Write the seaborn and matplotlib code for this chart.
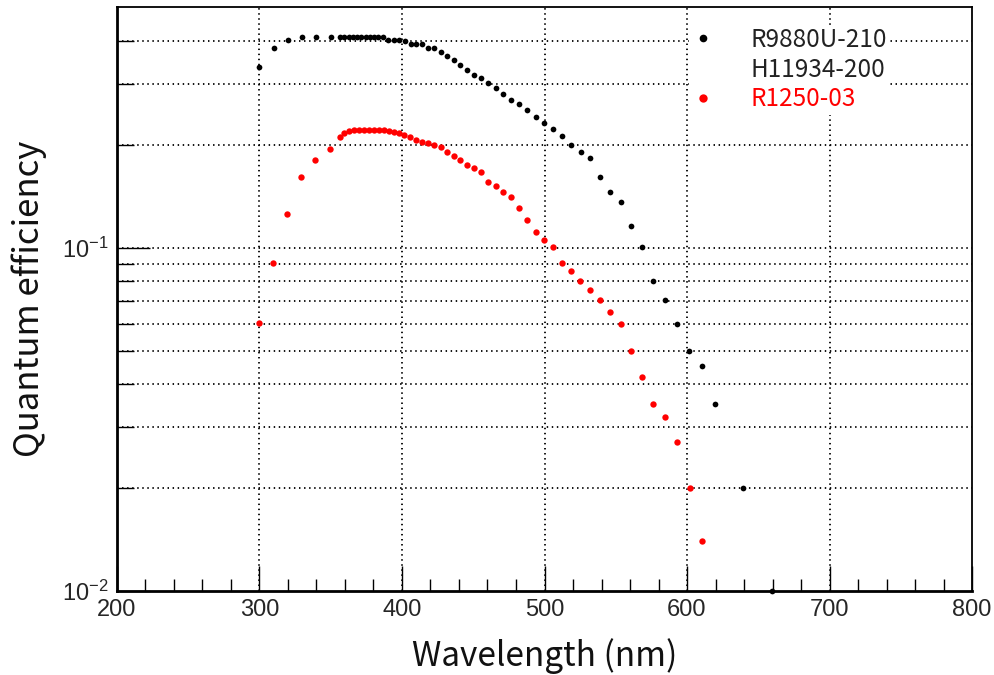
import numpy as np
import pandas as pd
import matplotlib
matplotlib.use("Agg")
import matplotlib.pyplot as plt
import seaborn as sns
from matplotlib.ticker import FixedLocator, NullFormatter, FuncFormatter
from matplotlib.lines import Line2D

# ---------------- data ----------------
wl_r9880 = [300, 310, 320, 330, 340, 350,
            356.5, 359.5, 362.5, 365.5, 368.5, 371.5, 374.5, 377.5, 380.5, 383.5, 386.5,
            390.4, 394.4, 398.1, 402.1, 406.1, 410.0, 414.0, 418.5, 422.5, 427.2, 431.4,
            436.3, 441.0, 445.4, 450.3, 455.4, 460.6, 465.7, 471.1, 476.5, 482.1, 488.0,
            493.8, 499.6, 506.0, 512.3, 518.8, 525.4, 531.9, 538.9, 546.2, 553.5, 560.9,
            568.6, 576.4, 584.8, 593.2, 601.6, 610.7, 619.9, 639.1, 659.4]
qe_r9880 = [0.338, 0.384, 0.403, 0.413, 0.413, 0.413,
            0.413, 0.413, 0.413, 0.413, 0.413, 0.413, 0.413, 0.413, 0.413, 0.413, 0.413,
            0.403, 0.403, 0.403, 0.400, 0.393, 0.393, 0.393, 0.384, 0.384, 0.372, 0.362,
            0.352, 0.342, 0.330, 0.319, 0.312, 0.302, 0.292, 0.282, 0.270, 0.262, 0.252,
            0.241, 0.232, 0.222, 0.212, 0.200, 0.191, 0.183, 0.161, 0.146, 0.136, 0.116,
            0.1005, 0.0803, 0.0704, 0.0602, 0.0502, 0.0452, 0.0352, 0.0200, 0.0100]

wl_r1250 = [300, 309.2, 319.1, 329.1, 339.2, 349.5, 356.7, 359.5, 363.0, 366.3, 369.8,
            373.1, 376.6, 380.1, 383.6, 387.2, 390.6, 394.4, 398.1, 401.4, 405.8, 410.0,
            414.3, 418.5, 422.7, 427.2, 431.6, 436.3, 441.0, 445.6, 450.5, 455.7, 460.6,
            465.7, 471.1, 476.7, 482.1, 488.0, 493.8, 499.6, 505.7, 512.0, 518.4, 525.2,
            531.9, 538.9, 546.2, 553.5, 560.9, 568.6, 576.4, 584.7, 593.0, 601.9, 610.7]
qe_r1250 = [0.0603, 0.0906, 0.1256, 0.161, 0.181, 0.194, 0.211, 0.216, 0.219, 0.2205, 0.221,
            0.221, 0.221, 0.221, 0.2206, 0.2205, 0.219, 0.218, 0.216, 0.2135, 0.210, 0.2065,
            0.204, 0.2017, 0.200, 0.197, 0.191, 0.186, 0.181, 0.174, 0.171, 0.166, 0.156,
            0.152, 0.146, 0.141, 0.131, 0.121, 0.111, 0.1055, 0.1005, 0.0904, 0.0855, 0.0803,
            0.0755, 0.0704, 0.0652, 0.0602, 0.0502, 0.0421, 0.0352, 0.0321, 0.0271, 0.0200, 0.0140]

x_major = [200, 300, 400, 500, 600, 700, 800]
y_major = [0.01, 0.1]
y_minor = [0.02, 0.03, 0.04, 0.05, 0.06, 0.07, 0.08, 0.09, 0.2, 0.3, 0.4]

label_a = "R9880U-210"
label_b = "H11934-200"
label_c = "R1250-03"

df = pd.concat([
    pd.DataFrame({"wl": wl_r9880, "qe": qe_r9880, "pmt": "A"}),
    pd.DataFrame({"wl": wl_r1250, "qe": qe_r1250, "pmt": "C"}),
], ignore_index=True)

# ---------------- style ----------------
sns.set_theme(style="white")
plt.rcParams["font.family"] = ["Liberation Sans", "DejaVu Sans"]
plt.rcParams["mathtext.fontset"] = "custom"
plt.rcParams["mathtext.rm"] = "Liberation Sans"
plt.rcParams["mathtext.it"] = "Liberation Sans"

fig = plt.figure(figsize=(9.94, 6.75), dpi=100)
ax = fig.add_axes([117 / 994, 1 - 591 / 675, 855 / 994, 584 / 675])

sns.scatterplot(data=df[df.pmt == "A"], x="wl", y="qe", color="black", s=17,
                linewidth=0, ax=ax, clip_on=False, zorder=5, legend=False)
sns.scatterplot(data=df[df.pmt == "C"], x="wl", y="qe", color="#ff0000", s=21,
                linewidth=0, ax=ax, clip_on=False, zorder=5, legend=False)

ax.set_yscale("log")
ax.set_xlim(200, 800)
ax.set_ylim(0.01, 0.504)

ax.xaxis.set_major_locator(FixedLocator(x_major))
ax.xaxis.set_minor_locator(FixedLocator([v for v in range(200, 801, 20) if v % 100]))
ax.yaxis.set_major_locator(FixedLocator(y_major))
ax.yaxis.set_minor_locator(FixedLocator(y_minor))
ax.yaxis.set_minor_formatter(NullFormatter())

def yfmt(v, pos):
    e = int(round(np.log10(v)))
    return r"$10^{%d}$" % e
ax.yaxis.set_major_formatter(FuncFormatter(yfmt))

ax.tick_params(axis="x", which="major", direction="in", length=18, width=1,
               labelsize=17, pad=6, color="black", top=False, bottom=True)
ax.tick_params(axis="x", which="minor", direction="in", length=9, width=1,
               color="black", top=False, bottom=True)
ax.tick_params(axis="y", which="major", direction="in", length=24, width=1,
               labelsize=17, pad=6, color="black", left=True, right=False)
ax.tick_params(axis="y", which="minor", direction="in", length=12, width=1,
               color="black", left=True, right=False)

for lab in ax.get_xticklabels() + ax.get_yticklabels():
    lab.set_family(["Liberation Sans", "DejaVu Sans"])

ax.grid(False)
grid_kw = dict(color="black", linewidth=1.3, linestyle=(0, (0.8, 2.0)))
for v in x_major[1:-1]:
    ax.axvline(v, zorder=1, **grid_kw)
for v in y_major[1:] + y_minor:
    ax.axhline(v, zorder=1, **grid_kw)

for side in ["top", "right"]:
    ax.spines[side].set_linewidth(1.3)
    ax.spines[side].set_color("black")
for side in ["left", "bottom"]:
    ax.spines[side].set_linewidth(2.0)
    ax.spines[side].set_color("black")

cjk = ["Noto Sans CJK JP", "DejaVu Sans"]
ax.set_xlabel("Wavelength (nm)", fontsize=24, family=cjk, labelpad=12, color="#111111")
ax.set_ylabel("Quantum efficiency", fontsize=25, family=cjk, labelpad=11, color="#111111")

handles = [
    Line2D([], [], linestyle="none", marker="o", markersize=5.5, color="black", markeredgewidth=0),
    Line2D([], [], linestyle="none", marker="none"),
    Line2D([], [], linestyle="none", marker="o", markersize=6, color="#ff0000", markeredgewidth=0),
]
leg = ax.legend(handles, [label_a, label_b, label_c], loc="upper left",
                bbox_to_anchor=(0.6685, 0.970), frameon=True, borderpad=0.1,
                handlelength=1.0, handletextpad=1.43, labelspacing=0.15,
                borderaxespad=0, fancybox=False,
                prop={"family": cjk, "size": 17.5})
leg.get_frame().set_facecolor("white")
leg.get_frame().set_edgecolor("none")
leg.get_frame().set_alpha(1.0)
leg.set_zorder(6)
for t, c in zip(leg.get_texts(), ["#222222", "#222222", "#ff0000"]):
    t.set_color(c)

fig.savefig("out.png", dpi=100)
